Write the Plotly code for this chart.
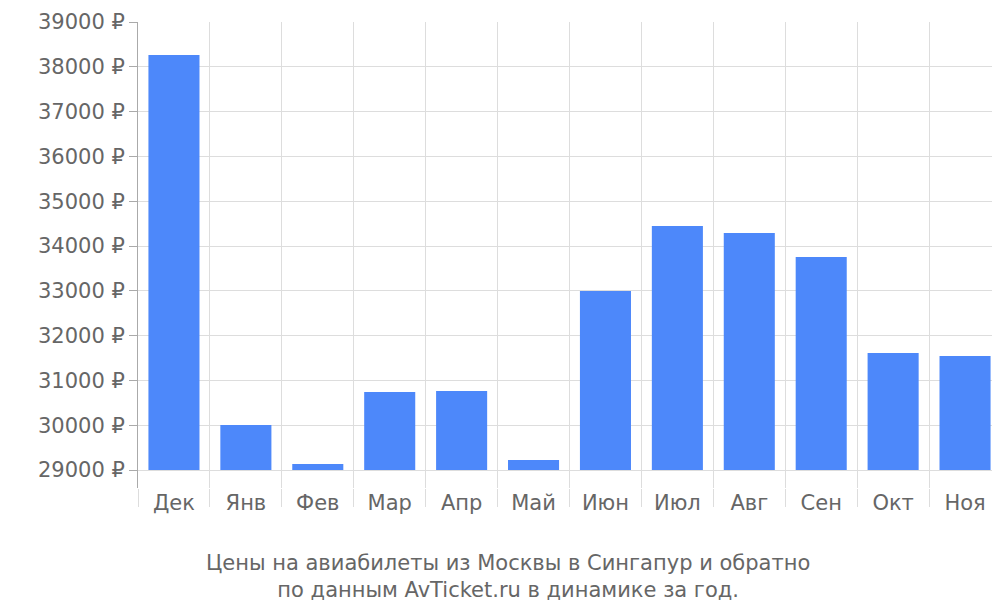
import plotly.graph_objects as go

months = ["Дек", "Янв", "Фев", "Мар", "Апр", "Май", "Июн", "Июл", "Авг", "Сен", "Окт", "Ноя"]
prices = [38263, 30004, 29134, 30741, 30763, 29223, 32996, 34446, 34290, 33754, 31612, 31545]
base_value = 29000
y_ticks = list(range(29000, 39001, 1000))
y_labels = [f"{v} ₽" for v in y_ticks]

fig = go.Figure(go.Bar(
    x=months, y=[p - base_value for p in prices], base=base_value,
    marker_color="#4d88fa", marker_line_width=0,
))
fig.update_layout(
    width=1000, height=600,
    margin=dict(l=130, r=7, t=14, b=120, autoexpand=False),
    plot_bgcolor="white", paper_bgcolor="white",
    font=dict(family="DejaVu Sans", color="#666666", size=21),
    bargap=0.29, showlegend=False,
)
fig.update_yaxes(range=[28600, 39000], tickvals=y_ticks, ticktext=y_labels, automargin=False,
                 showgrid=True, gridcolor="#dddddd", gridwidth=1,
                 showline=True, linecolor="#aaaaaa", ticks="outside", ticklen=8,
                 tickcolor="#aaaaaa", zeroline=False)
fig.update_xaxes(tickson="boundaries", showgrid=True, gridcolor="#dddddd", automargin=False,
                 ticks="outside", ticklen=18, tickcolor="#dddddd", showline=False)
fig.add_annotation(text="Цены на авиабилеты из Москвы в Сингапур и обратно<br>по данным AvTicket.ru в динамике за год.",
                   xref="paper", yref="paper", x=(500-130)/863, y=-0.13, xanchor="center", yanchor="top",
                   showarrow=False, font=dict(size=21, color="#666666"))
fig.write_html("out.html")
